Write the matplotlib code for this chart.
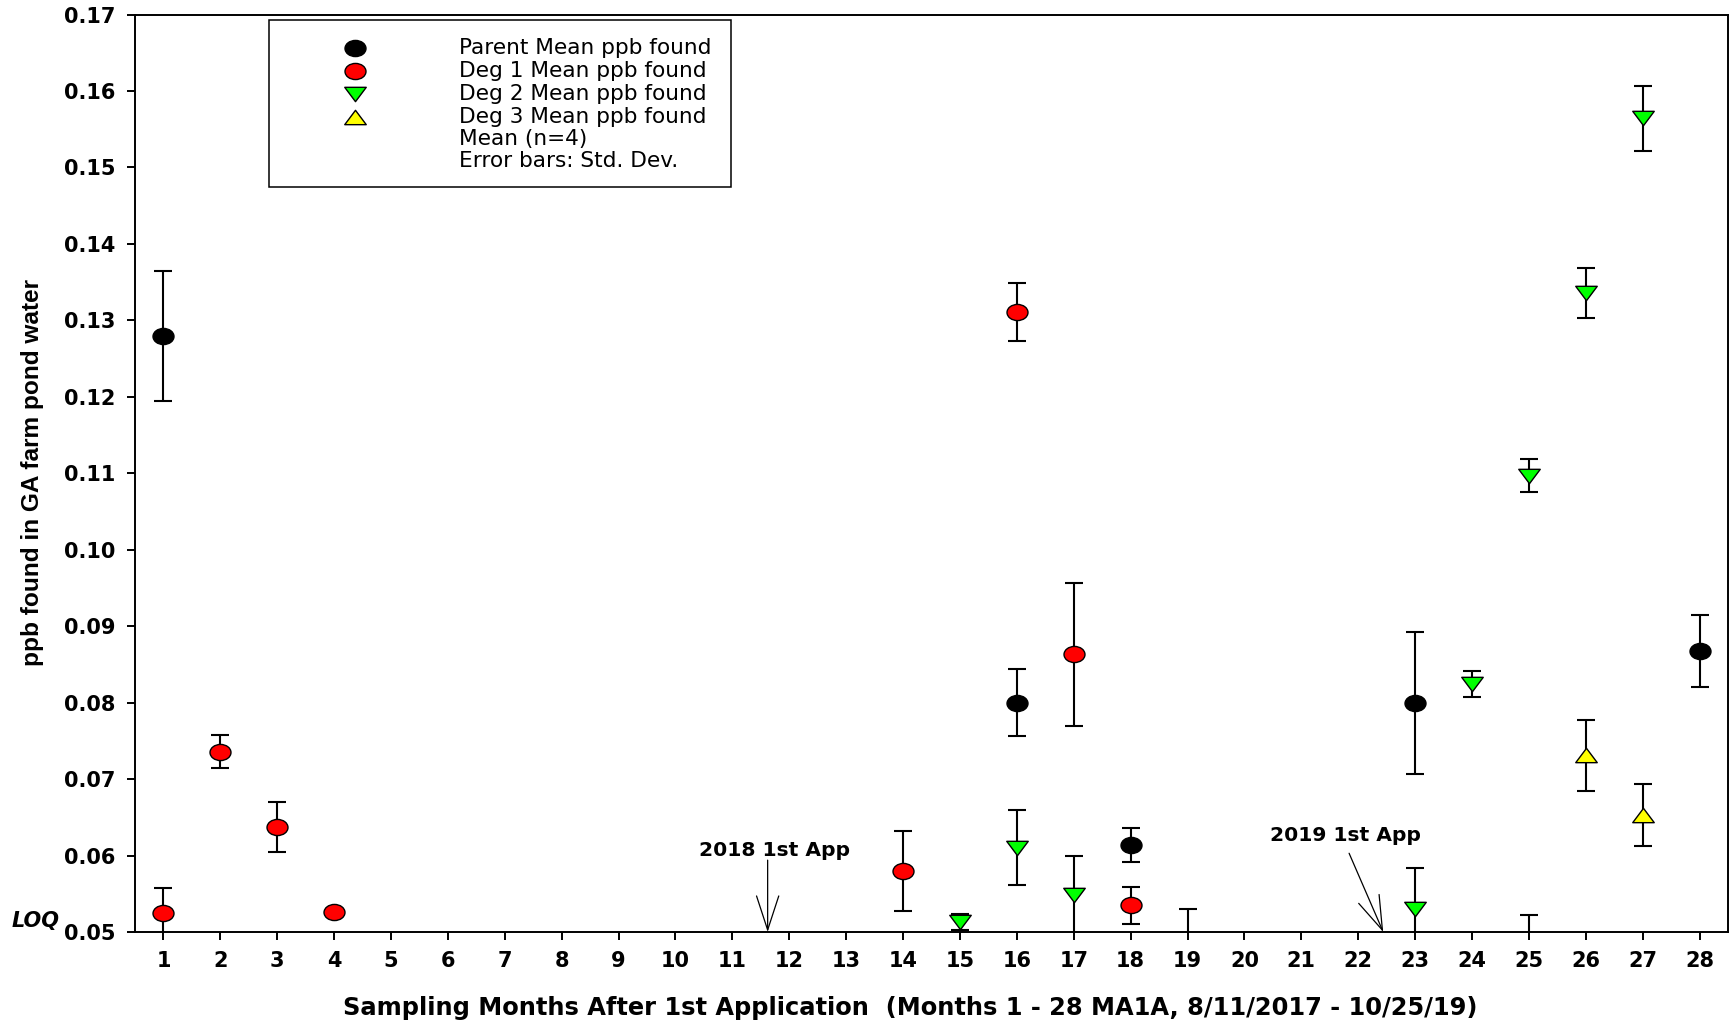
import numpy as np
import matplotlib
matplotlib.use("Agg")
import matplotlib.pyplot as plt
from matplotlib.path import Path
from matplotlib.lines import Line2D
from matplotlib.patches import Rectangle, ArrowStyle
from matplotlib.font_manager import FontProperties

# ---------------- data ----------------
months = list(range(1, 29))

parent_months = [1, 16, 18, 23, 28]
parent_mean = [0.1280, 0.0800, 0.0614, 0.0800, 0.0867]
parent_sd = [0.0085, 0.0044, 0.0022, 0.0093, 0.0047]

deg1_months = [1, 2, 3, 4, 14, 16, 17, 18]
deg1_mean = [0.0525, 0.0736, 0.0637, 0.0526, 0.0580, 0.1311, 0.0863, 0.0535]
deg1_sd = [0.0032, 0.0022, 0.0033, 0.0004, 0.0052, 0.0038, 0.0094, 0.0024]

deg2_months = [15, 16, 17, 19, 23, 24, 25, 26, 27]
deg2_mean = [0.0513, 0.0610, 0.0549, 0.0475, 0.0530, 0.0825, 0.1097, 0.1336, 0.1564]
deg2_sd = [0.0010, 0.0049, 0.0051, 0.0055, 0.0054, 0.0017, 0.0022, 0.0033, 0.0042]

deg3_months = [25, 26, 27]
deg3_mean = [0.0480, 0.0731, 0.0653]
deg3_sd = [0.0042, 0.0046, 0.0040]

y_ticks = [0.05, 0.06, 0.07, 0.08, 0.09, 0.10, 0.11, 0.12, 0.13, 0.14, 0.15, 0.16, 0.17]
y_ticklabels = ["0.05", "0.06", "0.07", "0.08", "0.09", "0.10", "0.11", "0.12",
                "0.13", "0.14", "0.15", "0.16", "0.17"]

legend_labels = ["Parent Mean ppb found", "Deg 1 Mean ppb found",
                 "Deg 2 Mean ppb found", "Deg 3 Mean ppb found",
                 "Mean (n=4)", "Error bars: Std. Dev."]

app_labels = ["2018 1st App", "2019 1st App"]
app_tip = [(11.62, 0.0500), (22.44, 0.0500)]
app_tail = [(11.62, 0.0594), (21.84, 0.0603)]
app_text = [(11.74, 0.0607), (21.78, 0.0626)]

# ---------------- markers (stretched shapes) ----------------
circ = Path.unit_circle()
ellipse = Path(circ.vertices * np.array([1.3, 1.0]), circ.codes)
tri_down = Path([[-0.75, 0.5], [0.75, 0.5], [0.0, -0.5], [-0.75, 0.5]],
                [Path.MOVETO, Path.LINETO, Path.LINETO, Path.CLOSEPOLY])
tri_up = Path([[-0.75, -0.5], [0.75, -0.5], [0.0, 0.5], [-0.75, -0.5]],
              [Path.MOVETO, Path.LINETO, Path.LINETO, Path.CLOSEPOLY])

series = [
    (parent_months, parent_mean, parent_sd, ellipse, "#000000", 15.1),
    (deg1_months, deg1_mean, deg1_sd, ellipse, "#FF0000", 15.1),
    (deg2_months, deg2_mean, deg2_sd, tri_down, "#00FF00", 15.5),
    (deg3_months, deg3_mean, deg3_sd, tri_up, "#FFFF00", 15.5),
]

# ---------------- figure ----------------
fig = plt.figure(figsize=(17.31, 10.27), dpi=100)
ax = fig.add_axes([135 / 1731, 95 / 1027, 1593 / 1731, 917.5 / 1027])

for xs, ys, sd, mk, col, ms in series:
    ax.errorbar(xs, ys, yerr=sd, fmt="none", ecolor="black", elinewidth=1.5,
                capsize=6.5, capthick=1.5, zorder=2)
    ax.plot(xs, ys, linestyle="none", marker=mk, markersize=ms,
            markerfacecolor=col, markeredgecolor="black", markeredgewidth=1.0,
            zorder=3)

ax.set_xlim(0.5, 28.5)
ax.set_ylim(0.05, 0.17)
ax.set_xticks(months)
ax.set_xticklabels([str(m) for m in months])
ax.set_yticks(y_ticks)
ax.set_yticklabels(y_ticklabels)

tick_fp = FontProperties(family="DejaVu Sans", weight="bold", size=15)
for lab in ax.get_xticklabels() + ax.get_yticklabels():
    lab.set_fontproperties(tick_fp)

ax.tick_params(axis="both", direction="out", length=6, width=1.4, pad=8,
               top=False, right=False)
for sp in ax.spines.values():
    sp.set_linewidth(1.4)

ax.set_xlabel("Sampling Months After 1st Application  (Months 1 - 28 MA1A, 8/11/2017 - 10/25/19)",
              fontfamily="DejaVu Sans", fontweight="bold", fontsize=17.4)
ax.xaxis.set_label_coords(0.4865, -0.070)
ax.set_ylabel("ppb found in GA farm pond water",
              fontfamily=["Liberation Sans Narrow", "Liberation Sans"],
              fontweight="bold", fontsize=17.6)
ax.yaxis.set_label_coords(-0.057, 0.501)

# LOQ marker text
ax.text(-0.0625, 0.012, "LOQ", transform=ax.transAxes, ha="center", va="center",
        fontfamily="DejaVu Sans", fontweight="bold", fontstyle="italic", fontsize=15)

# application arrows
for lab, tip, tail, tpos in zip(app_labels, app_tip, app_tail, app_text):
    ax.annotate("", xy=tip, xytext=tail,
                arrowprops=dict(arrowstyle=ArrowStyle("->", head_length=2.45, head_width=0.8),
                                mutation_scale=10, lw=0.9, color="black",
                                shrinkA=0, shrinkB=0))
    ax.text(tpos[0], tpos[1], lab, ha="center", va="center",
            fontfamily="DejaVu Sans", fontweight="bold", fontsize=14.6)

# legend box (manual, to match layout)
bx0, bx1 = (269 - 135) / 1593, (731 - 135) / 1593
by1, by0 = (932 - 20) / 917.5, (932 - 187) / 917.5
ax.add_patch(Rectangle((bx0, by0), bx1 - bx0, by1 - by0, transform=ax.transAxes,
                       facecolor="white", edgecolor="black", linewidth=1.1, zorder=5))
row_px = [47.5, 70.7, 93.8, 117.0, 139.1, 161.2]
mk_x = (355.5 - 135) / 1593
tx_x = (459 - 135) / 1593
for i, lab in enumerate(legend_labels):
    yy = (932 - row_px[i]) / 917.5
    if i < len(series):
        _, _, _, mk, col, ms = series[i]
        ax.add_line(Line2D([mk_x], [yy], transform=ax.transAxes, linestyle="none",
                           marker=mk, markersize=ms, markerfacecolor=col,
                           markeredgecolor="black", markeredgewidth=1.0, zorder=6,
                           clip_on=False))
    ax.text(tx_x, yy, lab, transform=ax.transAxes, ha="left", va="center",
            fontfamily="DejaVu Sans", fontsize=15.6, zorder=6)

fig.savefig("out.png", dpi=100)
